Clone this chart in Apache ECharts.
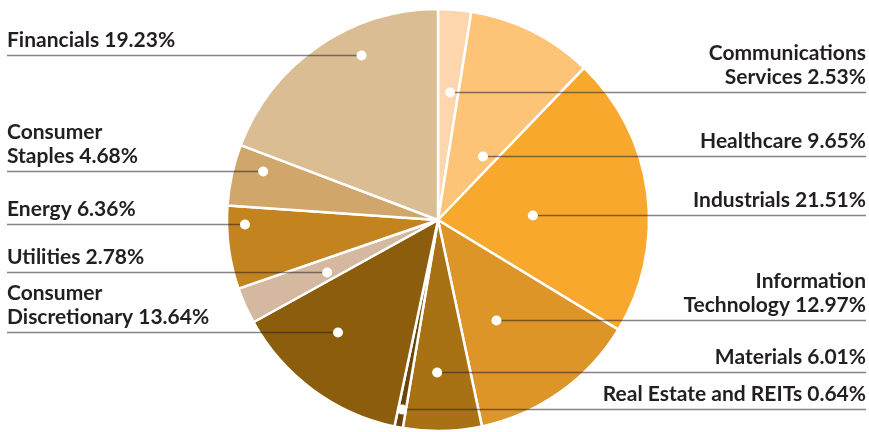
<!DOCTYPE html>
<html>
<head>
<meta charset="utf-8">
<script src="https://cdn.jsdelivr.net/npm/echarts@6/dist/echarts.min.js"></script>
<style>
  html, body { margin: 0; padding: 0; background: #fff; }
  #chart { width: 869px; height: 432px; }
</style>
</head>
<body>
<div id="chart"></div>
<script>
// slices clockwise from 12 o'clock
const sectors = ['Communications Services', 'Healthcare', 'Industrials', 'Information Technology', 'Materials',
  'Real Estate and REITs', 'Consumer Discretionary', 'Utilities', 'Energy', 'Consumer Staples', 'Financials'];
const weights = [2.53, 9.65, 21.51, 12.97, 6.01, 0.64, 13.64, 2.78, 6.36, 4.68, 19.23];
const labelNames = ['Communications\nServices', 'Healthcare', 'Industrials', 'Information\nTechnology', 'Materials',
  'Real Estate and REITs', 'Consumer\nDiscretionary', 'Utilities', 'Energy', 'Consumer\nStaples', 'Financials'];
const colors = ['#fdd6ae', '#fdc477', '#f9a82e', '#de9528', '#a87113', '#6b4508',
  '#8b5d0d', '#d4b9a0', '#c38420', '#d0a66a', '#dbbd93'];

// where each leader dot sits inside its slice: [share of the slice sweep, share of radius]
const anchors = [[0.59, 0.61], [0.75, 0.37], [0.56, 0.45], [0.61, 0.55], [0.57, 0.72], [0.5, 0.91],
  [0.61, 0.71], [0.39, 0.58], [0.78, 0.915], [0.69, 0.86], [0.64, 0.86]];
// which side the label sits on
const onRight = [true, true, true, true, true, true, false, false, false, false, false];

const cx = 438, cy = 220, R = 211;
const leftEdge = 7, rightEdge = 866;

// dot positions follow the slice angles worked out from the weights
let acc = 0;
const dots = weights.map((w, i) => {
  const a = (acc + anchors[i][0] * w) / 100 * Math.PI * 2;
  acc += w;
  const r = anchors[i][1] * R;
  return { x: cx + r * Math.sin(a), y: Math.round(cy - r * Math.cos(a)) + 0.5, right: onRight[i] };
});

const chart = echarts.init(document.getElementById('chart'), null, { renderer: 'canvas' });

const leaders = [];
dots.forEach((d) => {
  leaders.push({
    type: 'polyline',
    z: 100,
    shape: { points: [[d.x, d.y], [d.right ? rightEdge : leftEdge, d.y]] },
    style: { stroke: 'rgba(35, 31, 32, 0.55)', lineWidth: 1.5, fill: null }
  });
});
dots.forEach((d) => {
  leaders.push({
    type: 'circle',
    z: 101,
    shape: { cx: d.x, cy: d.y, r: 5 },
    style: { fill: '#fff' }
  });
});

chart.setOption({
  animation: false,
  backgroundColor: '#fff',
  series: [{
    type: 'pie',
    center: [cx, cy],
    radius: R,
    startAngle: 90,
    clockwise: true,
    avoidLabelOverlap: false,
    emphasis: { disabled: true },
    itemStyle: { borderColor: '#fff', borderWidth: 2.5 },
    label: {
      show: true,
      position: 'outside',
      formatter: (p) => labelNames[p.dataIndex] + ' ' + weights[p.dataIndex].toFixed(2) + '%',
      fontFamily: 'Lato',
      fontWeight: 'bold',
      fontSize: 21,
      lineHeight: 24,
      color: '#231f20'
    },
    labelLine: { show: false },
    labelLayout: (p) => {
      const d = dots[p.dataIndex];
      return {
        x: d.right ? rightEdge : leftEdge,
        y: d.y - 3,
        align: d.right ? 'right' : 'left',
        verticalAlign: 'bottom'
      };
    },
    data: sectors.map((name, i) => ({ name, value: weights[i], itemStyle: { color: colors[i] } }))
  }],
  graphic: leaders
});
</script>
</body>
</html>
